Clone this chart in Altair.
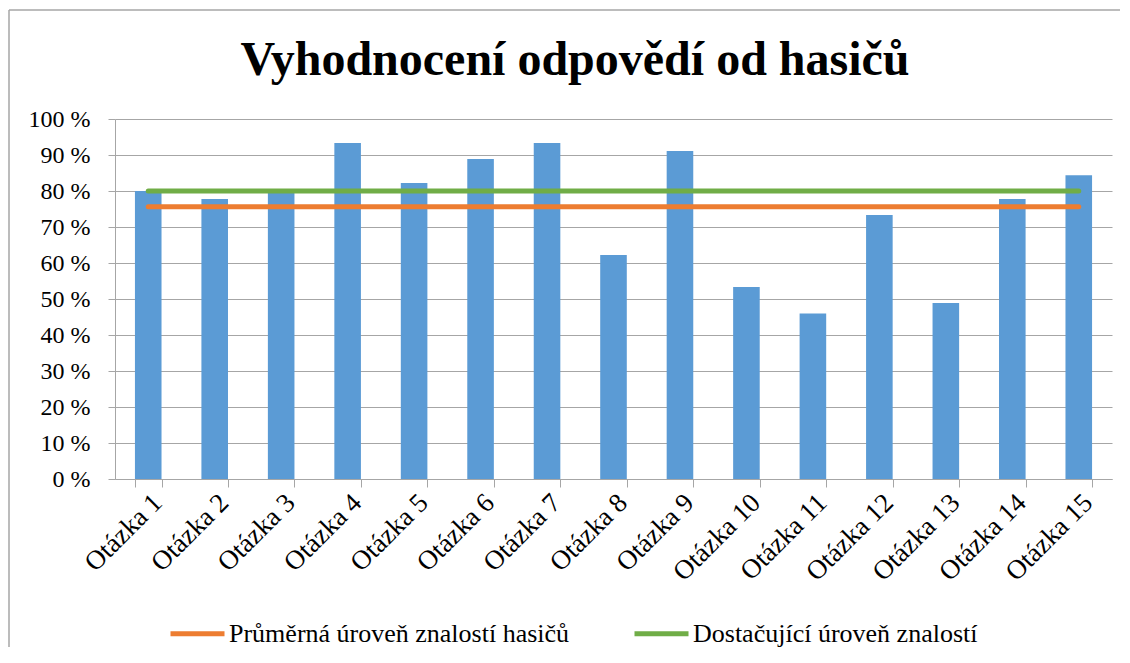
import altair as alt
import pandas as pd

categories = ["Otázka 1", "Otázka 2", "Otázka 3", "Otázka 4", "Otázka 5",
              "Otázka 6", "Otázka 7", "Otázka 8", "Otázka 9", "Otázka 10",
              "Otázka 11", "Otázka 12", "Otázka 13", "Otázka 14", "Otázka 15"]
values = [80.0, 77.8, 80.0, 93.3, 82.2, 88.9, 93.3, 62.2, 91.1, 53.3,
          46.0, 73.3, 48.9, 77.8, 84.4]
series_names = ["Průměrná úroveň znalostí hasičů", "Dostačující úroveň znalostí"]
series_levels = [75.6, 80.0]
series_colors = ["#ed7d31", "#70ad47"]
y_ticks = [0, 10, 20, 30, 40, 50, 60, 70, 80, 90, 100]
title_text = "Vyhodnocení odpovědí od hasičů"

bars_df = pd.DataFrame({"cat": categories, "val": values})
lines_df = pd.DataFrame([
    {"cat": c, "val": lvl, "series": name}
    for name, lvl in zip(series_names, series_levels)
    for c in categories
])

FONT = "Liberation Serif"
GRAY = "#a6a6a6"

x_enc = alt.X("cat:N", sort=categories, title=None,
              scale=alt.Scale(paddingInner=0.6, paddingOuter=0.3),
              axis=alt.Axis(labelAngle=-45, labelAlign="right", labelBaseline="top",
                            labelPadding=2, tickBand="extent", tickSize=8,
                            domainColor=GRAY, tickColor=GRAY, labelFont=FONT,
                            labelFontSize=27, labelColor="black", grid=False,
                            labelOverlap=False, labelLimit=0))
y_enc = alt.Y("val:Q", title=None,
              scale=alt.Scale(domain=[0, 100], nice=False),
              axis=alt.Axis(values=y_ticks, labelExpr="datum.value + ' %'",
                            tickSize=7, labelPadding=18, domainColor=GRAY, tickColor=GRAY,
                            gridColor=GRAY, labelFont=FONT, labelFontSize=24,
                            labelColor="black", labelOverlap=False))

bars = alt.Chart(bars_df).mark_bar(color="#5b9bd5").encode(x=x_enc, y=y_enc)

lines = alt.Chart(lines_df).mark_line(strokeWidth=5, strokeCap="round").encode(
    x=x_enc,
    y=y_enc,
    color=alt.Color("series:N", sort=series_names,
                    scale=alt.Scale(domain=series_names, range=series_colors),
                    legend=alt.Legend(title=None, orient="none", direction="horizontal",
                                      legendX=53, legendY=485, symbolType="stroke",
                                      symbolSize=2916, symbolStrokeWidth=5,
                                      labelFont=FONT, labelFontSize=26, labelLimit=0,
                                      labelColor="black", labelOffset=2,
                                      columnPadding=54)),
)

one_row = pd.DataFrame({"t": [title_text]})
title_mark = alt.Chart(one_row).mark_text(
    font=FONT, fontSize=48, fontWeight="bold", color="black",
    align="center", baseline="alphabetic"
).encode(text="t:N", x=alt.value(460), y=alt.value(-44))

border_top = alt.Chart(one_row).mark_rule(color=GRAY, strokeWidth=1.5).encode(
    x=alt.value(-106), x2=alt.value(1005), y=alt.value(-109))
border_left = alt.Chart(one_row).mark_rule(color=GRAY, strokeWidth=1.5).encode(
    x=alt.value(-106), y=alt.value(-109), y2=alt.value(528))

chart = alt.layer(bars, lines, title_mark, border_top, border_left).properties(
    width=997, height=360,
    autosize=alt.AutoSizeParams(type="none"),
    padding={"left": 107, "top": 111, "right": 8, "bottom": 168},
).configure_view(stroke=None)

chart.save("out.html", embed_options={"renderer": "svg", "actions": False})
